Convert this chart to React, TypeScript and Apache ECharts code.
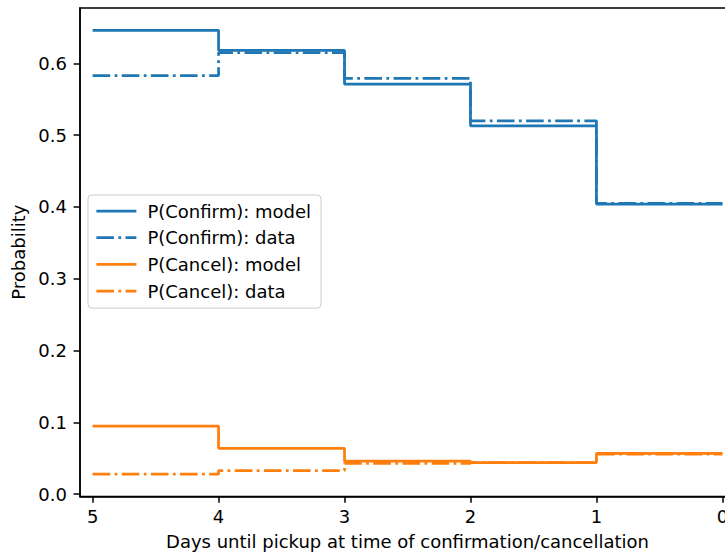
import React, { useEffect, useRef } from "react";
import * as echarts from "echarts";

const days = [5, 4, 3, 2, 1, 0];
const confirmModel = [0.646, 0.618, 0.571, 0.513, 0.404, 0.404];
const confirmData = [0.583, 0.615, 0.579, 0.52, 0.405, 0.405];
const cancelModel = [0.095, 0.064, 0.046, 0.044, 0.057, 0.057];
const cancelData = [0.028, 0.033, 0.043, 0.044, 0.056, 0.056];
const xTicks = [0, 1, 2, 3, 4, 5];
const yTicks = [0, 0.1, 0.2, 0.3, 0.4, 0.5, 0.6];
const seriesNames = [
  "P(Confirm): model",
  "P(Confirm): data",
  "P(Cancel): model",
  "P(Cancel): data",
];

const BLUE = "#1f77b4";
const ORANGE = "#ff7f0e";
const FONT = "DejaVu Sans";
const DASHDOT = [17.6, 4.4, 2.75, 4.4];

function pairs(vals: number[]) {
  return days.map((d, i) => [d, vals[i]]);
}

export default function App() {
  const ref = useRef<HTMLDivElement>(null);
  useEffect(() => {
    if (!ref.current) return;
    const chart = echarts.init(ref.current, undefined, { renderer: "svg" });
    const mk = (name: string, vals: number[], color: string, dashed: boolean) => ({
      name,
      type: "line",
      step: "end",
      data: pairs(vals),
      showSymbol: false,
      symbol: "none",
      color,
      lineStyle: {
        color,
        width: 2.75,
        type: dashed ? DASHDOT : "solid",
        cap: "butt",
      },
      emphasis: { disabled: true },
    });
    chart.setOption({
      animation: false,
      textStyle: { fontFamily: FONT },
      grid: {
        left: 80,
        top: 8,
        width: 655,
        height: 488.4,
        show: true,
        borderColor: "#000",
        borderWidth: 1.5,
        backgroundColor: "transparent",
        containLabel: false,
        outerBoundsMode: "none",
      },
      legend: {
        orient: "vertical",
        left: 88,
        top: 195,
        padding: [7, 10, 8, 7],
        itemWidth: 40,
        itemHeight: 18,
        itemGap: 8.7,
        backgroundColor: "rgba(255,255,255,0.8)",
        borderColor: "#cccccc",
        borderWidth: 1,
        borderRadius: 4,
        data: seriesNames,
        itemStyle: { color: "transparent", borderColor: "transparent", borderWidth: 0 },
        lineStyle: { width: 2.75 },
        textStyle: {
          fontFamily: FONT,
          fontSize: 18,
          lineHeight: 18,
          color: "#000",
          padding: [0, 0, 0, 6],
        },
      },
      xAxis: {
        type: "value",
        inverse: true,
        min: -0.1,
        max: 5.1,
        name: "Days until pickup at time of confirmation/cancellation",
        nameLocation: "middle",
        nameGap: 36,
        nameTextStyle: { fontFamily: FONT, fontSize: 18, color: "#000" },
        axisLine: { show: true, onZero: false, lineStyle: { color: "#000", width: 1.5 } },
        axisTick: {
          show: true,
          inside: false,
          length: 6.4,
          lineStyle: { color: "#000", width: 1.5 },
          customValues: xTicks,
        },
        axisLabel: {
          fontFamily: FONT,
          fontSize: 18,
          color: "#000",
          margin: 11,
          customValues: xTicks,
          formatter: (v: number) => String(v),
        },
        splitLine: { show: false },
      },
      yAxis: {
        type: "value",
        min: -0.003,
        max: 0.677,
        name: "Probability",
        nameLocation: "middle",
        nameGap: 50,
        nameTextStyle: { fontFamily: FONT, fontSize: 18, color: "#000" },
        axisLine: { show: true, onZero: false, lineStyle: { color: "#000", width: 1.5 } },
        axisTick: {
          show: true,
          inside: false,
          length: 6.4,
          lineStyle: { color: "#000", width: 1.5 },
          customValues: yTicks,
        },
        axisLabel: {
          fontFamily: FONT,
          fontSize: 18,
          color: "#000",
          margin: 13,
          customValues: yTicks,
          formatter: (v: number) => v.toFixed(1),
        },
        splitLine: { show: false },
      },
      series: [
        mk(seriesNames[0], confirmModel, BLUE, false),
        mk(seriesNames[1], confirmData, BLUE, true),
        mk(seriesNames[2], cancelModel, ORANGE, false),
        mk(seriesNames[3], cancelData, ORANGE, true),
      ],
    });
    return () => chart.dispose();
  }, []);
  return (
    <div
      ref={ref}
      style={{ position: "fixed", left: 0, top: 0, width: 725, height: 552, background: "#fff" }}
    />
  );
}
